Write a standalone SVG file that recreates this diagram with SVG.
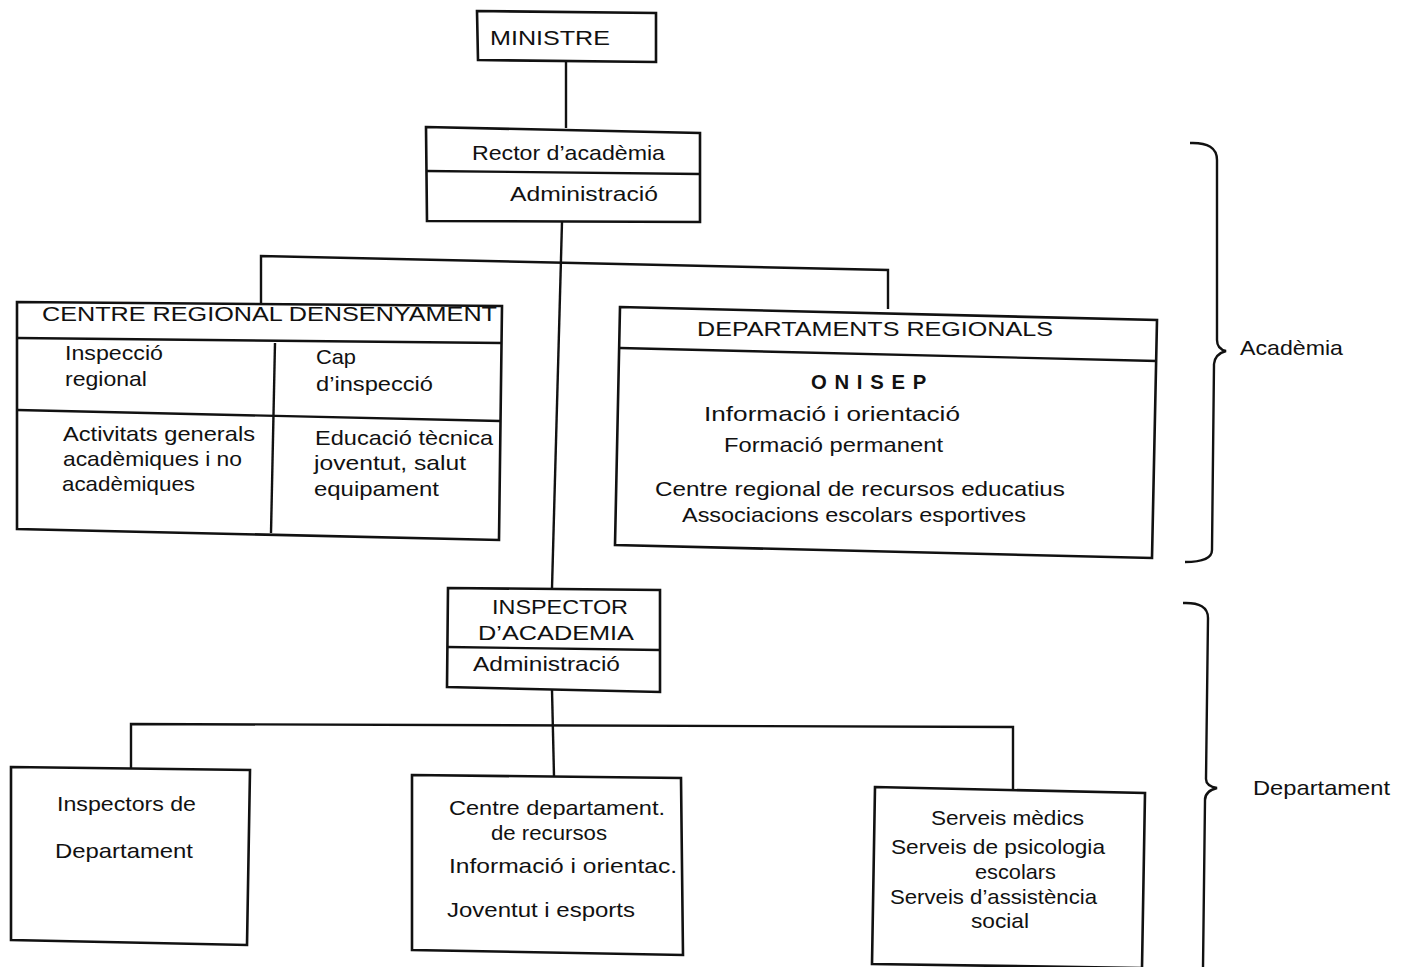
<svg xmlns="http://www.w3.org/2000/svg" width="1409" height="967" viewBox="0 0 1409 967">
<style>
.box{fill:#fff;stroke:#111;stroke-width:2.6;stroke-linejoin:miter}
.ln{fill:none;stroke:#111;stroke-width:2.4}
text{font-family:"Liberation Sans","Arial",sans-serif;font-size:21px;fill:#111}
</style>
<rect width="1409" height="967" fill="#fff"/>
<g id="connectors">
<path class="ln" d="M566 62 V128"/>
<path class="ln" d="M562 222 L552 588"/>
<path class="ln" d="M261 303 V256 L888 270 V309"/>
<path class="ln" d="M552 690 L554 776"/>
<path class="ln" d="M131 768 V724 L1013 727 V789"/>
</g>
<g id="ministre">
<polygon class="box" points="477,11 656,13 656,62 478,60"/>
<text x="490" y="45" textLength="120" lengthAdjust="spacingAndGlyphs">MINISTRE</text>
</g>
<g id="rector">
<polygon class="box" points="426,127 700,133 700,222 427,221"/>
<line class="ln" x1="426" y1="171" x2="700" y2="174"/>
<text x="472" y="160" textLength="193" lengthAdjust="spacingAndGlyphs">Rector d’acadèmia</text>
<text x="510" y="201" textLength="148" lengthAdjust="spacingAndGlyphs">Administració</text>
</g>
<g id="centre-regional">
<polygon class="box" points="17,302 502,306 499,540 17,529"/>
<line class="ln" x1="17" y1="338" x2="502" y2="343"/>
<line class="ln" x1="17" y1="410" x2="500" y2="421"/>
<line class="ln" x1="275" y1="343" x2="271" y2="533"/>
<text x="42" y="321" textLength="455" lengthAdjust="spacingAndGlyphs">CENTRE REGIONAL DENSENYAMENT</text>
<text x="65" y="360" textLength="98" lengthAdjust="spacingAndGlyphs">Inspecció</text>
<text x="65" y="386" textLength="82" lengthAdjust="spacingAndGlyphs">regional</text>
<text x="316" y="364" textLength="40" lengthAdjust="spacingAndGlyphs">Cap</text>
<text x="316" y="391" textLength="117" lengthAdjust="spacingAndGlyphs">d’inspecció</text>
<text x="63" y="441" textLength="192" lengthAdjust="spacingAndGlyphs">Activitats generals</text>
<text x="63" y="466" textLength="179" lengthAdjust="spacingAndGlyphs">acadèmiques i no</text>
<text x="62" y="491" textLength="133" lengthAdjust="spacingAndGlyphs">acadèmiques</text>
<text x="315" y="445" textLength="178" lengthAdjust="spacingAndGlyphs">Educació tècnica</text>
<text x="314" y="470" textLength="152" lengthAdjust="spacingAndGlyphs">joventut, salut</text>
<text x="314" y="496" textLength="125" lengthAdjust="spacingAndGlyphs">equipament</text>
</g>
<g id="departaments-regionals">
<polygon class="box" points="620,307 1157,320 1152,558 615,545"/>
<line class="ln" x1="620" y1="348" x2="1157" y2="361"/>
<text x="697" y="336" textLength="356" lengthAdjust="spacingAndGlyphs">DEPARTAMENTS REGIONALS</text>
<text x="811" y="389" textLength="123" lengthAdjust="spacingAndGlyphs" font-weight="bold" letter-spacing="8">ONISEP</text>
<text x="704" y="421" textLength="256" lengthAdjust="spacingAndGlyphs">Informació i orientació</text>
<text x="724" y="452" textLength="219" lengthAdjust="spacingAndGlyphs">Formació permanent</text>
<text x="655" y="496" textLength="410" lengthAdjust="spacingAndGlyphs">Centre regional de recursos educatius</text>
<text x="682" y="522" textLength="344" lengthAdjust="spacingAndGlyphs">Associacions escolars esportives</text>
</g>
<g id="inspector-academia">
<polygon class="box" points="448,588 660,590 660,692 447,687"/>
<line class="ln" x1="447" y1="647" x2="660" y2="650"/>
<text x="492" y="614" textLength="136" lengthAdjust="spacingAndGlyphs">INSPECTOR</text>
<text x="478" y="640" textLength="156" lengthAdjust="spacingAndGlyphs">D’ACADEMIA</text>
<text x="473" y="671" textLength="147" lengthAdjust="spacingAndGlyphs">Administració</text>
</g>
<g id="inspectors-departament">
<polygon class="box" points="11,767 250,770 247,945 11,940"/>
<text x="57" y="811" textLength="139" lengthAdjust="spacingAndGlyphs">Inspectors de</text>
<text x="55" y="858" textLength="138" lengthAdjust="spacingAndGlyphs">Departament</text>
</g>
<g id="centre-departament">
<polygon class="box" points="412,775 681,778 683,955 412,950"/>
<text x="449" y="815" textLength="216" lengthAdjust="spacingAndGlyphs">Centre departament.</text>
<text x="491" y="840" textLength="116" lengthAdjust="spacingAndGlyphs">de recursos</text>
<text x="449" y="873" textLength="228" lengthAdjust="spacingAndGlyphs">Informació i orientac.</text>
<text x="447" y="917" textLength="188" lengthAdjust="spacingAndGlyphs">Joventut i esports</text>
</g>
<g id="serveis">
<polygon class="box" points="875,787 1145,793 1142,968 872,964"/>
<text x="931" y="825" textLength="153" lengthAdjust="spacingAndGlyphs">Serveis mèdics</text>
<text x="891" y="854" textLength="214" lengthAdjust="spacingAndGlyphs">Serveis de psicologia</text>
<text x="975" y="879" textLength="81" lengthAdjust="spacingAndGlyphs">escolars</text>
<text x="890" y="904" textLength="207" lengthAdjust="spacingAndGlyphs">Serveis d’assistència</text>
<text x="971" y="928" textLength="58" lengthAdjust="spacingAndGlyphs">social</text>
</g>
<g id="brace-academia">
<path class="ln" d="M1190 143 Q1217 142 1217 160 L1217 340 Q1217 349 1226 351 Q1215 354 1214 364 L1212 550 Q1212 562 1185 562"/>
<text x="1240" y="355" textLength="103" lengthAdjust="spacingAndGlyphs">Acadèmia</text>
</g>
<g id="brace-departament">
<path class="ln" d="M1183 603 Q1208 602 1208 618 L1206 779 Q1206 786 1217 788 Q1205 791 1205 800 L1203 967"/>
<text x="1253" y="795" textLength="137" lengthAdjust="spacingAndGlyphs">Departament</text>
</g>
</svg>
